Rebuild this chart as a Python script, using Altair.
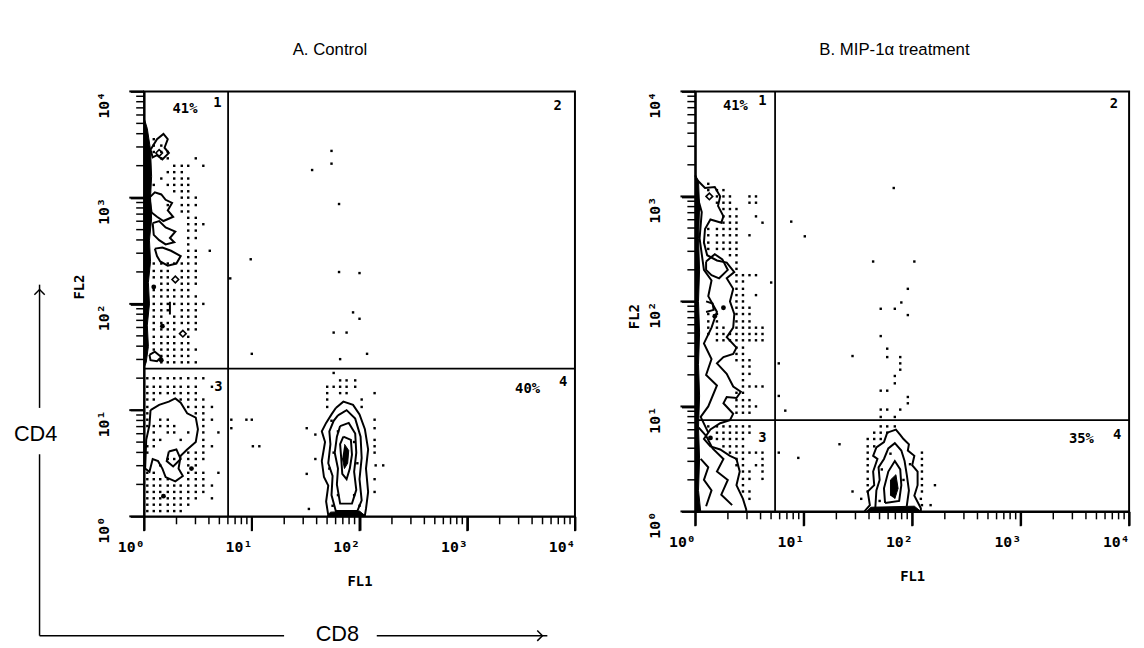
import altair as alt
import pandas as pd

MONO = "DejaVu Sans Mono"
SANS = "Liberation Sans"

# ---------------- axis ticks (log scale 10^0 .. 10^4, minor ticks 2..9) -------------
major_values = [1, 10, 100, 1000, 10000]
major_labels = ["10⁰", "10¹", "10²", "10³", "10⁴"]
minor_values = [2, 3, 4, 5, 6, 7, 8, 9,
                20, 30, 40, 50, 60, 70, 80, 90,
                200, 300, 400, 500, 600, 700, 800, 900,
                2000, 3000, 4000, 5000, 6000, 7000, 8000, 9000]

# ---------------- Panel A : Control (values in log decades of FL1 / FL2) -------------
a_title = "A. Control"
a_quad_x = 0.78
a_quad_y = 1.39
a_text = ["41%", "1", "2", "3", "40%", "4"]
a_text_x = [0.38, 0.68, 3.84, 0.69, 3.56, 3.89]
a_text_y = [3.83, 3.89, 3.86, 1.22, 1.20, 1.26]

a_q1_rows = [
    (3.55, [0.09]), (3.49, [0.09, 0.16]), (3.43, [0.09, 0.16, 0.22]),
    (3.37, [0.16, 0.22, 0.48]), (3.30, [0.28, 0.35, 0.41, 0.55]),
    (3.24, [0.22, 0.28, 0.35]), (3.18, [0.16, 0.28, 0.35, 0.41]),
    (3.12, [0.09, 0.22, 0.28, 0.35, 0.41]), (3.06, [0.28, 0.35, 0.41]),
    (3.00, [0.35, 0.41, 0.48]), (2.93, [0.22, 0.35, 0.41, 0.48]), (2.87, [0.35, 0.41]),
    (2.81, [0.41, 0.48]), (2.75, [0.41, 0.48, 0.55]), (2.69, [0.41, 0.48]),
    (2.62, [0.41, 0.48]), (2.56, [0.41]), (2.50, [0.41, 0.48, 0.61]),
    (2.44, [0.41, 0.48]), (2.38, [0.09, 0.16, 0.22, 0.28, 0.35, 0.41, 0.48]),
    (2.31, [0.09, 0.16, 0.22, 0.35, 0.41, 0.48]), (2.25, [0.09, 0.16, 0.22, 0.35, 0.41, 0.48]),
    (2.19, [0.16, 0.22, 0.35, 0.41, 0.48]), (2.13, [0.09, 0.16, 0.22, 0.28, 0.35, 0.41]),
    (2.07, [0.09, 0.16, 0.22, 0.28, 0.35, 0.41, 0.48]),
    (2.00, [0.09, 0.16, 0.22, 0.28, 0.35, 0.41, 0.48, 0.55]),
    (1.94, [0.09, 0.16, 0.22, 0.35, 0.41, 0.48]), (1.88, [0.09, 0.16, 0.28, 0.35, 0.41, 0.48]),
    (1.82, [0.09, 0.16, 0.22, 0.28, 0.35, 0.41, 0.48]), (1.76, [0.09, 0.16, 0.22, 0.28, 0.41, 0.48]),
    (1.69, [0.09, 0.16, 0.22, 0.28, 0.41]), (1.63, [0.09, 0.16, 0.22, 0.28, 0.35, 0.41]),
    (1.57, [0.09, 0.16, 0.22, 0.28, 0.35, 0.41, 0.48]), (1.51, [0.16, 0.22, 0.28, 0.35, 0.41]),
    (1.45, [0.16, 0.22, 0.28, 0.35, 0.41, 0.48]),
]
a_q3_rows = [
    (1.30, [0.03, 0.09, 0.15, 0.22, 0.28, 0.34, 0.41, 0.48, 0.55]),
    (1.22, [0.03, 0.09, 0.15, 0.22, 0.28, 0.34, 0.41, 0.48, 0.63]),
    (1.16, [0.03, 0.09, 0.15, 0.22, 0.28, 0.34, 0.41, 0.48]),
    (1.10, [0.03, 0.09, 0.34, 0.41, 0.48, 0.55]), (1.03, [0.03, 0.41, 0.48, 0.55, 0.63]),
    (0.97, [0.03, 0.48, 0.55]), (0.91, [0.03, 0.15, 0.22, 0.55, 0.63]),
    (0.85, [0.03, 0.09, 0.15, 0.22, 0.28, 0.55]), (0.79, [0.09, 0.22, 0.28, 0.41, 0.55, 0.69]),
    (0.72, [0.09, 0.15, 0.34, 0.55]), (0.66, [0.03, 0.09, 0.55, 0.63]),
    (0.60, [0.03, 0.41, 0.48, 0.55]), (0.54, [0.22, 0.28, 0.41, 0.48, 0.55]),
    (0.48, [0.15, 0.41, 0.48]), (0.41, [0.03, 0.09, 0.41, 0.48, 0.55, 0.69]),
    (0.35, [0.03, 0.09, 0.15, 0.22, 0.41, 0.48, 0.55]),
    (0.29, [0.03, 0.09, 0.15, 0.22, 0.28, 0.34, 0.41, 0.48, 0.55, 0.63]),
    (0.23, [0.03, 0.09, 0.15, 0.22, 0.28, 0.34, 0.41, 0.48, 0.55]),
    (0.17, [0.03, 0.09, 0.15, 0.22, 0.28, 0.34, 0.41, 0.48, 0.63]),
    (0.11, [0.03, 0.09, 0.15, 0.22, 0.28, 0.34, 0.41]),
    (0.05, [0.03, 0.09, 0.15, 0.22, 0.28, 0.34]),
]
a_scatter = [
    (1.74, 3.44), (1.74, 3.32), (1.56, 3.26), (1.81, 2.94), (0.99, 2.42), (0.80, 2.24),
    (1.81, 2.30), (2.00, 2.29), (1.94, 1.92), (2.00, 1.86), (1.76, 1.73), (1.88, 1.73),
    (1.00, 1.53), (2.07, 1.53), (1.82, 1.48), (1.76, 1.35),
    (1.82, 1.28), (1.88, 1.28), (1.96, 1.28), (1.70, 1.22), (1.76, 1.22), (1.82, 1.22),
    (1.88, 1.22), (1.96, 1.22), (1.70, 1.16), (1.82, 1.16), (1.88, 1.16), (2.14, 1.16),
    (1.70, 1.10), (2.02, 1.10), (1.70, 1.03), (2.02, 1.03), (2.14, 0.91), (1.51, 0.83),
    (2.14, 0.83), (1.59, 0.77), (2.14, 0.72), (2.14, 0.66), (2.14, 0.60), (1.59, 0.54),
    (2.15, 0.48), (2.22, 0.48), (1.51, 0.40), (2.14, 0.35), (2.14, 0.23), (1.53, 0.07),
    (0.81, 0.91), (0.95, 0.91), (1.00, 0.91), (0.81, 0.83), (1.01, 0.66), (1.07, 0.66),
    (1.74, 0.90), (1.80, 0.80), (1.76, 0.60), (1.95, 0.70), (1.98, 0.50), (1.72, 0.45),
    (1.80, 0.20), (1.95, 0.20), (2.00, 0.10), (1.75, 0.10),
]
a_blobs = [(0.09, 2.16), (0.17, 1.79), (0.44, 0.45), (0.18, 0.19), (0.16, 1.47)]
a_diamonds = [(0.29, 2.23), (0.36, 1.72), (0.14, 3.42)]
a_contours = [
    [(0.06, 3.45), (0.12, 3.55), (0.18, 3.60), (0.22, 3.55), (0.19, 3.47), (0.23, 3.42),
     (0.17, 3.36), (0.12, 3.40), (0.08, 3.38), (0.06, 3.45)],
    [(0.05, 3.00), (0.10, 3.05), (0.16, 3.03), (0.20, 2.98), (0.26, 2.95), (0.22, 2.88),
     (0.27, 2.82), (0.18, 2.78), (0.12, 2.82), (0.07, 2.86), (0.05, 3.00)],
    [(0.08, 2.76), (0.14, 2.78), (0.20, 2.72), (0.29, 2.68), (0.24, 2.62), (0.28, 2.58),
     (0.20, 2.56), (0.14, 2.60), (0.09, 2.65), (0.08, 2.76)],
    [(0.10, 2.52), (0.17, 2.53), (0.25, 2.50), (0.34, 2.45), (0.30, 2.38), (0.22, 2.36),
     (0.15, 2.40), (0.12, 2.45), (0.10, 2.52)],
    [(0.05, 1.52), (0.10, 1.55), (0.16, 1.50), (0.12, 1.46), (0.06, 1.47), (0.05, 1.52)],
    [(0.24, 2.02), (0.24, 1.90)],
    [(0.06, 1.00), (0.14, 1.05), (0.23, 1.08), (0.29, 1.11), (0.34, 1.07), (0.40, 0.97),
     (0.48, 0.93), (0.50, 0.82), (0.48, 0.70), (0.40, 0.63), (0.34, 0.57), (0.32, 0.45),
     (0.36, 0.38), (0.29, 0.33), (0.20, 0.37), (0.17, 0.45), (0.13, 0.52), (0.08, 0.54),
     (0.05, 0.42), (0.01, 0.45), (0.02, 0.72), (0.05, 0.86), (0.06, 1.00)],
    [(0.23, 0.61), (0.30, 0.63), (0.34, 0.54), (0.27, 0.47), (0.21, 0.52), (0.23, 0.61)],
    [(1.78, 1.02), (1.85, 1.08), (1.94, 1.05), (2.00, 0.96), (2.05, 0.82), (2.08, 0.63),
     (2.06, 0.45), (2.08, 0.23), (2.06, 0.07), (2.05, 0.01), (1.71, 0.01), (1.69, 0.14),
     (1.71, 0.29), (1.67, 0.37), (1.65, 0.52), (1.68, 0.70), (1.65, 0.80), (1.69, 0.88),
     (1.74, 0.96), (1.78, 1.02)],
    [(1.80, 0.95), (1.88, 1.00), (1.96, 0.92), (2.01, 0.75), (2.02, 0.55), (2.00, 0.35),
     (2.02, 0.15), (1.98, 0.05), (1.78, 0.05), (1.74, 0.20), (1.75, 0.38), (1.71, 0.50),
     (1.73, 0.68), (1.72, 0.80), (1.76, 0.90), (1.80, 0.95)],
    [(1.82, 0.85), (1.90, 0.88), (1.96, 0.78), (1.97, 0.60), (1.95, 0.42), (1.97, 0.25),
     (1.93, 0.12), (1.82, 0.12), (1.79, 0.30), (1.80, 0.45), (1.77, 0.60), (1.79, 0.75),
     (1.82, 0.85)],
    [(1.85, 0.75), (1.92, 0.72), (1.93, 0.58), (1.91, 0.45), (1.88, 0.35), (1.84, 0.40),
     (1.83, 0.55), (1.82, 0.68), (1.85, 0.75)],
]
a_fills = [
    [(0.00, 3.75), (0.03, 3.65), (0.06, 3.45), (0.07, 3.20), (0.06, 3.00), (0.07, 2.80),
     (0.05, 2.60), (0.06, 2.40), (0.04, 2.20), (0.05, 2.00), (0.03, 1.80), (0.04, 1.60),
     (0.02, 1.45), (0.00, 1.40)],
    [(1.86, 0.68), (1.90, 0.62), (1.89, 0.50), (1.86, 0.45), (1.84, 0.55)],
    [(1.70, 0.00), (1.73, 0.04), (2.00, 0.05), (2.06, 0.00)],
]

# ---------------- Panel B : MIP-1a treatment ------------------------------------------
b_title = "B. MIP-1α treatment"
b_quad_x = 0.736
b_quad_y = 0.87
b_text = ["41%", "1", "2", "3", "35%", "4"]
b_text_x = [0.37, 0.62, 3.86, 0.62, 3.56, 3.89]
b_text_y = [3.86, 3.91, 3.88, 0.70, 0.69, 0.73]

b_q1_rows = [
    (3.12, [0.12]), (3.06, [0.12, 0.20, 0.26]), (3.00, [0.20, 0.26, 0.32, 0.50, 0.56]),
    (2.94, [0.20, 0.26, 0.32, 0.50, 0.56]), (2.88, [0.26, 0.32, 0.38]),
    (2.81, [0.26, 0.32, 0.38, 0.56]), (2.75, [0.26, 0.32, 0.38, 0.62]),
    (2.69, [0.12, 0.20, 0.26, 0.32, 0.38]), (2.63, [0.12, 0.20, 0.26, 0.32, 0.38, 0.50]),
    (2.56, [0.12, 0.20, 0.26, 0.32, 0.38]), (2.50, [0.12, 0.20, 0.26, 0.32, 0.38]),
    (2.44, [0.32, 0.38]), (2.37, [0.38]), (2.31, [0.38]), (2.25, [0.38, 0.44, 0.50, 0.56]),
    (2.19, [0.38, 0.44]), (2.12, [0.38, 0.44]), (2.06, [0.38, 0.44, 0.56]), (2.00, [0.38, 0.44]),
    (1.94, [0.38, 0.44, 0.50]), (1.88, [0.12, 0.20, 0.38, 0.44, 0.50]),
    (1.81, [0.12, 0.20, 0.38, 0.44, 0.50]),
    (1.75, [0.12, 0.20, 0.26, 0.38, 0.44, 0.50, 0.56, 0.62]),
    (1.69, [0.12, 0.20, 0.26, 0.32, 0.38, 0.44, 0.50, 0.56, 0.62]),
    (1.63, [0.20, 0.26, 0.32, 0.38, 0.44, 0.50, 0.56, 0.62]),
    (1.56, [0.38, 0.44]), (1.50, [0.38, 0.44]), (1.44, [0.38, 0.44, 0.50]),
    (1.38, [0.44, 0.50]), (1.31, [0.44, 0.50]), (1.25, [0.44]),
    (1.19, [0.44, 0.50, 0.56, 0.62]), (1.13, [0.38, 0.44]), (1.06, [0.38, 0.44, 0.50]),
    (1.00, [0.38, 0.44, 0.50, 0.56]), (0.94, [0.38, 0.44, 0.50]),
]
b_q3_rows = [
    (0.81, [0.12, 0.20, 0.26, 0.32, 0.38, 0.44, 0.50]),
    (0.75, [0.20, 0.26, 0.32, 0.38, 0.44, 0.50]), (0.69, [0.20, 0.26, 0.32, 0.38, 0.44]),
    (0.62, [0.26, 0.32, 0.38, 0.44]), (0.56, [0.32, 0.38, 0.44, 0.50, 0.56, 0.62]),
    (0.50, [0.38, 0.44, 0.62]), (0.44, [0.38, 0.44, 0.56, 0.62]), (0.38, [0.44, 0.50, 0.62]),
    (0.31, [0.44, 0.50, 0.62]), (0.25, [0.44]), (0.19, [0.44, 0.50]), (0.12, [0.50]),
]
b_scatter = [
    (1.83, 3.08), (0.885, 2.76), (1.01, 2.62), (1.64, 2.38), (2.02, 2.38), (0.70, 2.18),
    (1.96, 2.12), (1.90, 1.99), (1.71, 1.93), (1.84, 1.93), (1.96, 1.87), (1.71, 1.67),
    (1.45, 1.48), (1.77, 1.55), (1.77, 1.47), (1.89, 1.47), (1.89, 1.41), (1.89, 1.35),
    (1.84, 1.29), (1.84, 1.22), (0.77, 1.41), (1.71, 1.15), (1.77, 1.15), (1.96, 1.09),
    (1.96, 1.03), (1.71, 0.97), (1.77, 0.97), (1.89, 0.97), (0.77, 1.10), (0.83, 0.96),
    (1.71, 0.90), (1.84, 0.90),
    (1.33, 0.64), (0.95, 0.51), (0.77, 0.56), (1.71, 0.81), (1.77, 0.81), (1.84, 0.81),
    (1.65, 0.75), (1.71, 0.75), (1.77, 0.75), (1.59, 0.69), (1.65, 0.69), (1.71, 0.69),
    (1.59, 0.62), (1.65, 0.62), (1.59, 0.56), (2.09, 0.56), (1.59, 0.50), (2.09, 0.50),
    (1.59, 0.44), (2.09, 0.44), (1.59, 0.38), (2.09, 0.38), (1.59, 0.31), (2.09, 0.31),
    (1.59, 0.25), (2.09, 0.25), (2.21, 0.25), (1.45, 0.19), (1.59, 0.19), (2.09, 0.19),
    (1.53, 0.12), (2.08, 0.12), (2.09, 0.06), (2.17, 0.06),
    (1.72, 0.40), (1.80, 0.55), (1.92, 0.30), (1.70, 0.10), (1.98, 0.45),
]
b_blobs = [(0.18, 1.86), (0.26, 1.94), (0.14, 0.70)]
b_diamonds = [(0.13, 3.00)]
b_contours = [
    [(0.00, 3.20), (0.015, 3.16), (0.09, 3.08), (0.18, 3.09), (0.23, 3.00), (0.21, 2.91),
     (0.26, 2.81), (0.24, 2.75), (0.14, 2.78), (0.09, 2.69), (0.08, 2.56), (0.11, 2.44),
     (0.20, 2.39), (0.29, 2.37), (0.36, 2.28), (0.29, 2.22), (0.35, 2.12), (0.32, 2.00),
     (0.36, 1.88), (0.35, 1.75), (0.29, 1.66), (0.38, 1.56), (0.35, 1.50), (0.26, 1.47),
     (0.20, 1.41), (0.29, 1.31), (0.35, 1.19), (0.42, 1.14), (0.38, 1.08), (0.29, 1.09),
     (0.26, 1.03), (0.35, 0.93), (0.32, 0.87), (0.23, 0.84), (0.14, 0.78), (0.08, 0.69),
     (0.14, 0.62), (0.23, 0.59), (0.32, 0.53), (0.38, 0.50), (0.41, 0.38), (0.38, 0.25),
     (0.44, 0.12), (0.47, 0.02), (0.47, 0.00)],
    [(0.02, 3.00), (0.06, 2.85), (0.04, 2.60), (0.08, 2.30), (0.15, 2.20), (0.12, 2.05),
     (0.20, 1.90), (0.15, 1.75), (0.08, 1.60), (0.15, 1.45), (0.10, 1.30), (0.20, 1.20),
     (0.12, 1.00), (0.05, 0.90), (0.12, 0.75)],
    [(0.10, 2.38), (0.18, 2.45), (0.25, 2.40), (0.30, 2.30), (0.22, 2.22), (0.15, 2.25),
     (0.10, 2.30), (0.10, 2.38)],
    [(0.10, 2.00), (0.16, 1.98), (0.17, 1.92), (0.10, 1.90)],
    [(0.03, 0.80), (0.10, 0.72), (0.16, 0.60), (0.26, 0.50), (0.20, 0.38), (0.30, 0.30),
     (0.24, 0.16), (0.34, 0.06)],
    [(0.05, 0.50), (0.12, 0.42), (0.08, 0.30), (0.15, 0.20), (0.10, 0.05)],
    [(1.56, 0.00), (1.61, 0.06), (1.59, 0.19), (1.65, 0.25), (1.64, 0.38), (1.68, 0.50),
     (1.64, 0.53), (1.67, 0.61), (1.74, 0.66), (1.77, 0.75), (1.85, 0.78), (1.89, 0.73),
     (1.92, 0.69), (1.97, 0.64), (1.96, 0.58), (2.02, 0.53), (2.00, 0.44), (2.05, 0.38),
     (2.05, 0.25), (2.02, 0.15), (2.08, 0.03), (2.08, 0.00)],
    [(1.66, 0.03), (1.67, 0.20), (1.70, 0.30), (1.69, 0.42), (1.74, 0.50), (1.78, 0.60),
     (1.84, 0.65), (1.90, 0.58), (1.93, 0.48), (1.95, 0.35), (1.97, 0.20), (1.95, 0.05)],
    [(1.75, 0.08), (1.74, 0.22), (1.78, 0.38), (1.84, 0.48), (1.89, 0.40), (1.90, 0.25),
     (1.88, 0.10), (1.75, 0.08)],
]
b_fills = [
    [(0.00, 3.20), (0.03, 3.15), (0.04, 2.90), (0.03, 2.60), (0.04, 2.30), (0.03, 2.00),
     (0.04, 1.70), (0.03, 1.40), (0.04, 1.10), (0.03, 0.80), (0.04, 0.50), (0.03, 0.20),
     (0.05, 0.00), (0.00, 0.00)],
    [(1.80, 0.15), (1.80, 0.30), (1.85, 0.35), (1.87, 0.22), (1.84, 0.12)],
    [(1.58, 0.00), (1.62, 0.04), (2.02, 0.05), (2.08, 0.00)],
]

# ---------------- helpers --------------------------------------------------------------
label_expr = " : ".join(f"datum.value == {v} ? '{l}'" for v, l in zip(major_values, major_labels)) + " : ''"


def to_df(pairs, extra=None):
    df = pd.DataFrame(pairs, columns=["xd", "yd"])
    df["FL1"] = 10 ** df["xd"]
    df["FL2"] = 10 ** df["yd"]
    if extra:
        for k, v in extra.items():
            df[k] = v
    return df


def rows_to_pairs(rows):
    return [(x, y) for y, xs in rows for x in xs]


def paths_df(paths):
    recs = []
    for i, p in enumerate(paths):
        for j, (x, y) in enumerate(p):
            recs.append({"xd": x, "yd": y, "cid": i, "ord": j})
    df = pd.DataFrame(recs)
    df["FL1"] = 10 ** df["xd"]
    df["FL2"] = 10 ** df["yd"]
    return df


def encs(title_x, title_y):
    xs = alt.Scale(type="log", domain=[1, 10000], nice=False)
    ys = alt.Scale(type="log", domain=[1, 10000], nice=False)
    xa = alt.Axis(values=major_values, labelExpr=label_expr, title="FL1", tickSize=14,
                  ticks=True, tickColor="black", tickWidth=2, domainColor="black", domainWidth=2,
                  labelFont=MONO, labelFontSize=15, labelFontWeight="bold", labelColor="black",
                  labelAlign="right", labelBaseline="top", labelFlush=False, labelOverlap=False,
                  labelPadding=10, titleFont=MONO, titleFontSize=14, titleFontWeight="bold",
                  titleColor="black", titleY=70, titleBaseline="alphabetic", grid=False)
    ya = alt.Axis(values=major_values, labelExpr=label_expr, title="FL2", tickSize=14,
                  ticks=True, tickColor="black", tickWidth=2, domainColor="black", domainWidth=2,
                  labelFont=MONO, labelFontSize=15, labelFontWeight="bold", labelColor="black",
                  labelAngle=270, labelAlign="right", labelBaseline="middle", labelFlush=False,
                  labelOverlap=False, labelPadding=27, titleFont=MONO, titleFontSize=14,
                  titleFontWeight="bold", titleColor="black", titleAngle=270, titleX=title_x,
                  titleY=title_y, titleAlign="center", titleBaseline="middle", grid=False)
    return (alt.X("FL1:Q", scale=xs, axis=xa), alt.Y("FL2:Q", scale=ys, axis=ya))


def panel(title, dx, w, h, title_x, title_y, q1, q3, scatter, blobs, diamonds, contours,
          fills, quad_x, quad_y, texts, tx, ty, extra_layers=()):
    X, Y = encs(title_x, title_y)
    dots = to_df(rows_to_pairs(q1) + rows_to_pairs(q3) + scatter)
    minor = pd.DataFrame({"FL1": minor_values, "FL2": minor_values})
    major = pd.DataFrame({"FL1": major_values, "FL2": major_values})
    layers = []
    # minor and major ticks on both axes (outside the frame, pointing outwards)
    layers.append(alt.Chart(minor).mark_rule(color="black", strokeWidth=1.5).encode(
        x=X, y=alt.value(h), y2=alt.value(h + 8)))
    layers.append(alt.Chart(minor).mark_rule(color="black", strokeWidth=1.5).encode(
        y=Y, x=alt.value(0), x2=alt.value(-8)))
    layers.append(alt.Chart(major).mark_rule(color="black", strokeWidth=2).encode(
        x=X, y=alt.value(h), y2=alt.value(h + 15)))
    layers.append(alt.Chart(major).mark_rule(color="black", strokeWidth=2).encode(
        y=Y, x=alt.value(0), x2=alt.value(-15)))
    layers.append(alt.Chart(paths_df(fills)).mark_line(fill="black", stroke="black",
                                                        strokeWidth=1).encode(
        x=X, y=Y, detail="cid:N", order="ord:Q"))
    layers.append(alt.Chart(paths_df(contours)).mark_line(color="black", strokeWidth=2).encode(
        x=X, y=Y, detail="cid:N", order="ord:Q"))
    layers.append(alt.Chart(dots).mark_square(size=6, color="black", opacity=1).encode(x=X, y=Y))
    layers.append(alt.Chart(to_df(blobs)).mark_circle(size=24, color="black", opacity=1).encode(x=X, y=Y))
    layers.append(alt.Chart(to_df(diamonds)).mark_point(shape="diamond", size=45, color="black",
                                                        filled=False, strokeWidth=1.6,
                                                        opacity=1).encode(x=X, y=Y))
    layers.append(alt.Chart(pd.DataFrame({"FL1": [10 ** quad_x]})).mark_rule(
        color="black", strokeWidth=1.8).encode(x=X))
    layers.append(alt.Chart(pd.DataFrame({"FL2": [10 ** quad_y]})).mark_rule(
        color="black", strokeWidth=1.8).encode(y=Y))
    tdf = to_df(list(zip(tx, ty)), {"label": texts})
    layers.append(alt.Chart(tdf).mark_text(font=MONO, fontSize=14, fontWeight="bold",
                                           color="black").encode(x=X, y=Y, text="label:N"))
    layers.extend(extra_layers)
    return alt.layer(*layers).properties(
        width=w, height=h,
        title=alt.TitleParams(title, font=SANS, fontSize=17, fontWeight="normal", color="black",
                              anchor="middle", frame="group", dx=dx, offset=32))


# ---------------- CD4 / CD8 annotation (outside panel A, pixel positions) ---------------
ann = pd.DataFrame({"t": ["CD4"]})
ann8 = pd.DataFrame({"t": ["CD8"]})
arrow_layers = [
    alt.Chart(ann).mark_text(font=SANS, fontSize=22, color="black").encode(
        x=alt.value(-110), y=alt.value(348), text="t:N"),
    alt.Chart(ann8).mark_text(font=SANS, fontSize=22, color="black").encode(
        x=alt.value(196), y=alt.value(550), text="t:N"),
    alt.Chart(ann).mark_rule(color="black", strokeWidth=1.5).encode(
        x=alt.value(-106), y=alt.value(196), y2=alt.value(321)),
    alt.Chart(ann).mark_rule(color="black", strokeWidth=1.5).encode(
        x=alt.value(-106), y=alt.value(368), y2=alt.value(552)),
    alt.Chart(ann).mark_rule(color="black", strokeWidth=1.5).encode(
        x=alt.value(-106), x2=alt.value(142), y=alt.value(552)),
    alt.Chart(ann).mark_rule(color="black", strokeWidth=1.5).encode(
        x=alt.value(236), x2=alt.value(409), y=alt.value(552)),
    alt.Chart(ann).mark_point(shape="M-1,1L0,0L1,1", size=110, filled=False, color="black",
                              strokeWidth=1.5, opacity=1).encode(x=alt.value(-106), y=alt.value(201)),
    alt.Chart(ann).mark_point(shape="M-1,1L0,0L1,1", size=110, filled=False, color="black",
                              strokeWidth=1.5, opacity=1, angle=90).encode(x=alt.value(404), y=alt.value(552)),
]

chart_a = panel(a_title, -30, 437, 431, -65, 198, a_q1_rows, a_q3_rows, a_scatter, a_blobs,
                a_diamonds, a_contours, a_fills, a_quad_x, a_quad_y, a_text, a_text_x, a_text_y,
                arrow_layers)
chart_b = panel(b_title, -18, 440, 426, -62, 228, b_q1_rows, b_q3_rows, b_scatter, b_blobs,
                b_diamonds, b_contours, b_fills, b_quad_x, b_quad_y, b_text, b_text_x, b_text_y)

chart = alt.hconcat(chart_a, chart_b, spacing=50).configure_view(
    stroke="black", strokeWidth=2).properties(
    padding={"left": 4, "top": 28, "right": 5, "bottom": 5}, background="white")

chart.save("out.html", embed_options={"renderer": "svg", "actions": False})
